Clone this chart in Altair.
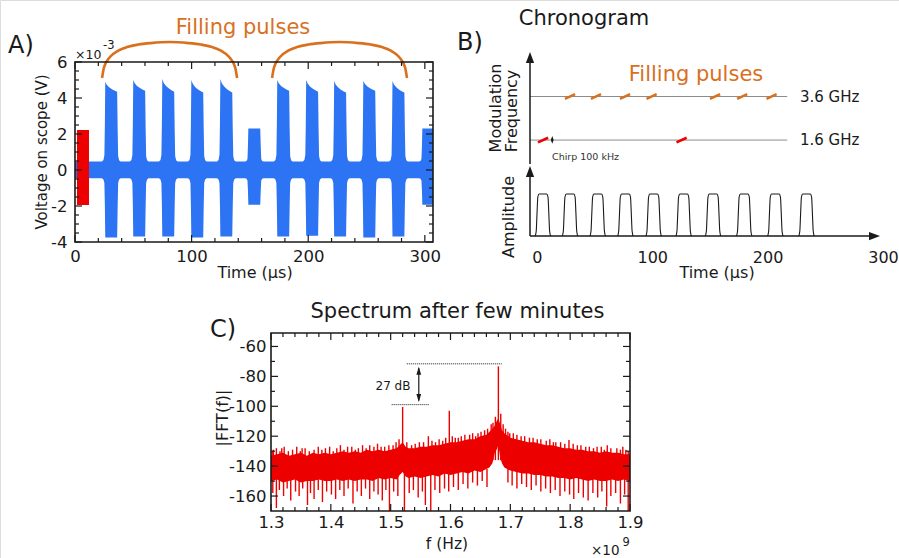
import altair as alt
import pandas as pd

FONT = "DejaVu Sans"
INK = "#1a1a1a"
BLUE = "#2c74f4"
RED = "#ec0000"
ORANGE = "#d9701e"
GREY = "#8c8c8c"
CANVAS_W, CANVAS_H = 899, 558

# ---------------- Panel A : scope trace (envelope of the recorded signal) ----------------
a_pulse_start = [1.7, 25.7, 49.7, 74.6, 99.5, 124.4, 148.4, 173.2, 198.0, 222.0, 247.0, 272.0, 297.6]
a_pulse_kind = ["red", "big", "big", "big", "big", "big", "small", "big", "big", "big", "big", "big", "small"]
a_big_peak = [4.9, 5.0, 5.05, 5.0, 5.05, 5.0, 5.0, 4.95, 4.95, 4.95]
a_big_end = [4.35, 4.4, 4.35, 4.3, 4.3, 4.4, 4.35, 4.3, 4.4, 4.3]
a_big_bottom = [-3.75, -3.7, -3.7, -3.75, -3.7, -3.7, -3.65, -3.7, -3.75, -3.7]
a_small_top, a_small_bottom = 2.3, -1.93
a_red_t = [1.7, 12.0]
a_red_top, a_red_bottom = 2.22, -1.95
a_base_hi, a_base_lo = 0.47, -0.46
a_trace_end = 312.0
# pulse envelope profile (offset from pulse edge, fraction of full swing)
a_rise_off = [-2.6, -1.3, -0.5, -0.1, 0.25]
a_rise_frac = [0.0, 0.02, 0.08, 0.45, 1.0]
a_plat_off = [1.5, 3.5, 6.0, 8.5, 10.45]
a_plat_frac = [0.3, 0.55, 0.75, 0.9, 1.0]
a_fall_off = [10.9, 11.3, 12.1, 13.4]
a_fall_frac = [0.45, 0.08, 0.02, 0.0]
# "Filling pulses" braces
a_brace_start = [23.2, 169.0]
a_brace_end = [139.0, 284.7]
a_brace_base, a_brace_top = 5.11, 7.11
a_brace_fx = [0, 0.015, 0.06, 0.12, 0.185, 0.27, 0.36, 0.5, 0.64, 0.73, 0.815, 0.88, 0.94, 0.985, 1.0]
a_brace_fh = [0, 0.3, 0.59, 0.76, 0.86, 0.93, 0.97, 1.0, 0.97, 0.93, 0.86, 0.76, 0.59, 0.3, 0]
a_xtick_major = [0, 100, 200, 300]
a_xtick_minor = [v for v in range(20, 307, 20) if v % 100]
a_ytick_major = [-4, -2, 0, 2, 4, 6]
a_ytick_minor = [v / 2 for v in range(-8, 13) if v % 4]

# ---------------- Panel B : chronogram ----------------
b_pulse_start = [-1.5, 22.0, 46.0, 70.0, 94.5, 120.5, 146.0, 173.0, 200.0, 227.0]
b_prof_off = [0, 0.9, 1.6, 2.3, 3.4, 10.0, 11.1, 11.8, 12.5, 13.4]
b_prof_lvl = [0, 0.12, 0.55, 0.93, 1.0, 1.0, 0.93, 0.55, 0.12, 0]
b_amp = 2.33
b_freq_labels = ["3.6 GHz", "1.6 GHz"]
b_freq_level = [7.75, 5.33]
b_axis_t = -6.0
b_line_end = 217.0
b_orange_t0 = [24.3, 46.8, 72.0, 95.0, 150.0, 173.5, 199.0]
b_red_t0 = [0.9, 121.0]
b_dash_len = 8.8
b_dash_rise = 0.13
b_chirp_t = 13.3
b_chirp_lo, b_chirp_hi = 5.12, 5.55
b_amp_tip, b_freq_tip, b_time_tip = 3.89, 10.22, 297.4
b_xticks = [0, 100, 200, 300]

# ---------------- Panel C : spectrum ----------------
spec_x = [1.300, 1.310, 1.320, 1.330, 1.340, 1.350, 1.360, 1.370, 1.380, 1.390, 1.400, 1.410,
          1.420, 1.430, 1.440, 1.450, 1.460, 1.470, 1.480, 1.490, 1.500, 1.510, 1.515, 1.520,
          1.525, 1.530, 1.540, 1.550, 1.560, 1.570, 1.580, 1.590, 1.600, 1.610, 1.620, 1.630,
          1.640, 1.650, 1.660, 1.665, 1.670, 1.674, 1.677, 1.680, 1.683, 1.686, 1.690, 1.700,
          1.710, 1.720, 1.730, 1.740, 1.750, 1.760, 1.770, 1.780, 1.790, 1.800, 1.810, 1.820,
          1.830, 1.840, 1.850, 1.860, 1.870, 1.880, 1.890, 1.900]
spec_hi = [-133, -132, -131, -133, -132, -131, -133, -131, -132, -131, -132, -131,
           -130, -131, -130, -131, -129, -130, -129, -130, -129, -128, -126, -124,
           -127, -128, -128, -127, -127, -126, -126, -125, -124, -124, -123, -122,
           -122, -120, -119, -117, -115, -113, -110, -108, -112, -116, -118, -121,
           -122, -123, -124, -124, -125, -126, -126, -127, -128, -128, -129, -129,
           -130, -130, -131, -130, -131, -131, -132, -132]
spec_lo = [-150, -149, -151, -150, -149, -151, -150, -150, -149, -150, -150, -149,
           -150, -149, -150, -149, -149, -150, -148, -149, -148, -149, -146, -144,
           -147, -148, -147, -148, -147, -146, -147, -145, -146, -145, -144, -145,
           -143, -144, -142, -141, -138, -131, -129, -126, -134, -138, -141, -143,
           -144, -145, -145, -146, -146, -147, -147, -148, -148, -149, -148, -149,
           -150, -149, -150, -150, -149, -150, -149, -150]
up_x = [1.304, 1.318, 1.336, 1.352, 1.372, 1.391, 1.410, 1.428, 1.446, 1.465, 1.484, 1.497,
        1.520, 1.535, 1.548, 1.563, 1.575, 1.587, 1.598, 1.608, 1.618, 1.632, 1.646, 1.657,
        1.668, 1.675, 1.680, 1.684, 1.688, 1.696, 1.705, 1.718, 1.732, 1.745, 1.760, 1.776,
        1.798, 1.812, 1.826, 1.845, 1.862, 1.878, 1.893,
        1.302, 1.309, 1.315, 1.322, 1.329, 1.343, 1.349, 1.357, 1.364, 1.379, 1.385, 1.398,
        1.404, 1.416, 1.422, 1.435, 1.441, 1.453, 1.459, 1.472, 1.478, 1.490, 1.504, 1.509,
        1.514, 1.527, 1.541, 1.555, 1.569, 1.581, 1.592, 1.603, 1.613, 1.624, 1.637, 1.642,
        1.651, 1.662, 1.671, 1.692, 1.699, 1.711, 1.724, 1.738, 1.751, 1.766, 1.772, 1.784,
        1.791, 1.805, 1.818, 1.832, 1.839, 1.852, 1.857, 1.868, 1.884, 1.888, 1.897]
up_top = [-129, -128, -129, -128, -129, -128, -128, -127, -128, -126, -127, -126,
          -100.5, -126, -124, -120, -124, -123, -103, -121, -120, -119, -118, -116,
          -112, -107, -73.3, -105, -112, -117, -118, -120, -121, -122, -123, -124,
          -122.5, -126, -127, -127, -126, -128, -129,
          -130, -128, -130, -127, -130, -127, -130, -128, -130, -127, -129, -127,
          -130, -126, -129, -127, -129, -126, -128, -127, -125, -127, -126, -124,
          -122, -124, -125, -124, -123, -122, -121, -120, -121, -119, -118, -120,
          -117, -115, -111, -115, -118, -119, -120, -121, -122, -122, -124, -124,
          -125, -125, -126, -127, -128, -127, -129, -128, -129, -127, -130]
dn_x = [1.303, 1.309, 1.314, 1.321, 1.327, 1.333, 1.341, 1.347, 1.353, 1.361, 1.366, 1.372,
        1.379, 1.386, 1.393, 1.401, 1.408, 1.415, 1.422, 1.429, 1.437, 1.444, 1.451, 1.458,
        1.465, 1.472, 1.479, 1.486, 1.492, 1.498, 1.505, 1.512, 1.523, 1.531, 1.538, 1.546,
        1.553, 1.558, 1.567, 1.574, 1.582, 1.590, 1.597, 1.605, 1.613, 1.621, 1.629, 1.637,
        1.645, 1.653, 1.661, 1.696, 1.703, 1.711, 1.719, 1.727, 1.735, 1.743, 1.751, 1.759,
        1.767, 1.775, 1.783, 1.791, 1.799, 1.806, 1.814, 1.822, 1.830, 1.838, 1.846, 1.853,
        1.861, 1.868, 1.876, 1.884, 1.891, 1.897]
dn_bot = [-158, -168, -156, -160, -155, -163, -157, -160, -155, -166, -158, -162,
          -156, -164, -157, -159, -162, -156, -160, -155, -165, -157, -160, -155,
          -162, -157, -159, -163, -156, -170, -157, -160, -170, -158, -156, -161,
          -157, -166, -170, -156, -158, -155, -157, -154, -156, -152, -155, -151,
          -153, -150, -154, -151, -153, -155, -152, -154, -156, -153, -157, -155,
          -158, -156, -160, -157, -159, -162, -158, -161, -163, -158, -161, -157,
          -167, -160, -158, -165, -159, -170]
c_ref_hi, c_ref_hi_x = -71.6, [1.527, 1.6855]
c_ref_lo, c_ref_lo_x = -98.9, [1.5017, 1.5646]
c_arrow_x, c_arrow_top, c_arrow_bot = 1.547, -73.6, -97.2
c_xtick_major = [1.3, 1.4, 1.5, 1.6, 1.7, 1.8, 1.9]
c_xtick_minor = [round(1.3 + 0.02 * i, 2) for i in range(31) if i % 5]
c_ytick_major = [-160, -140, -120, -100, -80, -60]
c_ytick_minor = [-150, -130, -110, -90, -70]

# ---------------- layout: pixel boxes of the three plot areas ----------------
BOX_A = dict(l=75, r=433, t=62, b=242)
BOX_B = dict(l=530, r=883, t=62, b=236)
BOX_C = dict(l=271, r=630, t=333, b=511)
DOM_A = dict(x=[0, 307], y=[-4, 6])
DOM_B = dict(x=[-6, 300], y=[0, 9.667])
DOM_C = dict(x=[1.3, 1.9], y=[-170, -51])
MINUS = "replace(datum.label, '\u2212', '-')"


def sx(dom, box, clamp=False):
    return alt.Scale(domain=dom["x"], range=[box["l"], box["r"]], nice=False, zero=False, clamp=clamp)


def sy(dom, box, clamp=False):
    return alt.Scale(domain=dom["y"], range=[box["b"], box["t"]], nice=False, zero=False, clamp=clamp)


def X(field, dom, box, axis=None, clamp=False):
    return alt.X(field, type="quantitative", scale=sx(dom, box, clamp), axis=axis)


def Y(field, dom, box, axis=None, clamp=False):
    return alt.Y(field, type="quantitative", scale=sy(dom, box, clamp), axis=axis)


def axis(orient, offset, values, pad, fmt, size=16.5):
    return alt.Axis(orient=orient, offset=offset, values=values, labelPadding=pad, format=fmt,
                    labelExpr=MINUS, title=None, ticks=False, tickSize=0, domain=False, grid=False,
                    labelFlush=False, labelOverlap=False, labelFontSize=size, labelColor=INK,
                    labelFont=FONT)


dummy = pd.DataFrame({"k": [0]})


def text(s, x, y, size, color=INK, align="center", baseline="alphabetic", angle=None):
    kw = dict(text=s, fontSize=size, color=color, align=align, baseline=baseline, font=FONT)
    if angle is not None:
        kw["angle"] = angle
    return alt.Chart(dummy).mark_text(**kw).encode(x=alt.value(x), y=alt.value(y))


def frame_and_ticks(dom, box, xmaj, xmin, ymaj, ymin):
    out = []
    for vals, L in ((xmaj, 7), (xmin, 4)):
        d = pd.DataFrame({"v": vals})
        base = alt.Chart(d).mark_rule(color=INK, strokeWidth=1.2)
        out.append(base.encode(x=X("v", dom, box), y=alt.value(box["b"]), y2=alt.value(box["b"] - L)))
        out.append(base.encode(x=X("v", dom, box), y=alt.value(box["t"]), y2=alt.value(box["t"] + L)))
    for vals, L in ((ymaj, 7), (ymin, 4)):
        d = pd.DataFrame({"v": vals})
        base = alt.Chart(d).mark_rule(color=INK, strokeWidth=1.2)
        out.append(base.encode(y=Y("v", dom, box), x=alt.value(box["l"]), x2=alt.value(box["l"] + L)))
        out.append(base.encode(y=Y("v", dom, box), x=alt.value(box["r"]), x2=alt.value(box["r"] - L)))
    out.append(alt.Chart(dummy).mark_rect(fillOpacity=0, stroke=INK, strokeWidth=1.6).encode(
        x=alt.value(box["l"]), x2=alt.value(box["r"]), y=alt.value(box["t"]), y2=alt.value(box["b"])))
    return out


layers = []

# ======================= Panel A =======================
rows = [(0.0, a_base_hi, a_base_lo)]
big = iter(zip(a_big_peak, a_big_end, a_big_bottom))
for s, kind in zip(a_pulse_start, a_pulse_kind):
    if kind == "red":
        continue
    if kind == "big":
        peak, end, bot = next(big)
    else:
        peak, end, bot = a_small_top, a_small_top, a_small_bottom
    for o, f in zip(a_rise_off, a_rise_frac):
        rows.append((s + o, a_base_hi + f * (peak - a_base_hi), a_base_lo + f * (bot - a_base_lo)))
    for o, f in zip(a_plat_off, a_plat_frac):
        rows.append((s + o, peak + f * (end - peak), bot))
    for o, f in zip(a_fall_off, a_fall_frac):
        rows.append((s + o, a_base_hi + f * (end - a_base_hi), a_base_lo + f * (bot - a_base_lo)))
rows.append((a_trace_end, a_base_hi, a_base_lo))
df_a = pd.DataFrame(rows, columns=["t", "hi", "lo"])

layers.append(alt.Chart(df_a).mark_area(color=BLUE, opacity=1).encode(
    x=X("t", DOM_A, BOX_A, axis("bottom", BOX_A["b"] - CANVAS_H, a_xtick_major, 6, "d"), clamp=True),
    y=Y("hi", DOM_A, BOX_A, axis("left", -BOX_A["l"], a_ytick_major, 8, "d")),
    y2="lo:Q"))
df_red = pd.DataFrame({"t": a_red_t, "hi": [a_red_top] * 2, "lo": [a_red_bottom] * 2})
layers.append(alt.Chart(df_red).mark_area(color=RED, opacity=1).encode(
    x=X("t", DOM_A, BOX_A), y=Y("hi", DOM_A, BOX_A), y2="lo:Q"))

brace_rows = []
for i, (t0, t1) in enumerate(zip(a_brace_start, a_brace_end)):
    for fx, fh in zip(a_brace_fx, a_brace_fh):
        brace_rows.append((i, t0 + fx * (t1 - t0), a_brace_base + fh * (a_brace_top - a_brace_base)))
df_brace = pd.DataFrame(brace_rows, columns=["id", "t", "v"])
layers.append(alt.Chart(df_brace).mark_line(color=ORANGE, strokeWidth=2.6, interpolate="monotone").encode(
    x=X("t", DOM_A, BOX_A), y=Y("v", DOM_A, BOX_A), detail="id:N"))
layers += frame_and_ticks(DOM_A, BOX_A, a_xtick_major, a_xtick_minor, a_ytick_major, a_ytick_minor)

layers += [
    text("A)", 8, 53, 24, align="left"),
    text("Filling pulses", 243, 33.5, 21, color=ORANGE),
    text("Voltage on scope (V)", 41.7, 152, 15, baseline="middle", angle=270),
    text("Time (\u00b5s)", 255, 278, 16),
    text("\u00d710", 75, 58.5, 12.5, align="left"),
    text("-3", 103, 49, 11.5, align="left"),
]

# ======================= Panel B =======================
df_lines = pd.DataFrame({"x0": [b_axis_t] * 2, "x1": [b_line_end] * 2, "lvl": b_freq_level})
layers.append(alt.Chart(df_lines).mark_rule(color=GREY, strokeWidth=1).encode(
    x=X("x0", DOM_B, BOX_B), x2="x1:Q", y=Y("lvl", DOM_B, BOX_B)))

dash_rows = [(t, t + b_dash_len, b_freq_level[0], "o") for t in b_orange_t0] + \
            [(t, t + b_dash_len, b_freq_level[1], "r") for t in b_red_t0]
df_dash = pd.DataFrame(dash_rows, columns=["t0", "t1", "lvl", "c"])
df_dash["y0"] = df_dash["lvl"] - b_dash_rise
df_dash["y1"] = df_dash["lvl"] + b_dash_rise
layers.append(alt.Chart(df_dash).mark_rule(strokeWidth=2.6).encode(
    x=X("t0", DOM_B, BOX_B), x2="t1:Q", y=Y("y0", DOM_B, BOX_B), y2="y1:Q",
    color=alt.Color("c:N", scale=alt.Scale(domain=["o", "r"], range=[ORANGE, RED]), legend=None)))

df_axes = pd.DataFrame({"x0": [b_axis_t, b_axis_t, b_axis_t],
                        "x1": [b_axis_t, b_axis_t, b_time_tip - 4],
                        "y0": [0, 4.0, 0],
                        "y1": [b_amp_tip - 0.3, b_freq_tip - 0.3, 0]})
layers.append(alt.Chart(df_axes).mark_rule(color=INK, strokeWidth=1.5).encode(
    x=X("x0", DOM_B, BOX_B), x2="x1:Q", y=Y("y0", DOM_B, BOX_B), y2="y1:Q"))
df_up = pd.DataFrame({"t": [b_axis_t, b_axis_t], "v": [b_amp_tip, b_freq_tip]})
layers.append(alt.Chart(df_up).mark_point(shape="M0,0L-0.75,2L0.75,2Z", filled=True, size=121,
                                          color=INK, opacity=1, strokeWidth=0).encode(
    x=X("t", DOM_B, BOX_B), y=Y("v", DOM_B, BOX_B)))
df_right = pd.DataFrame({"t": [b_time_tip], "v": [0]})
layers.append(alt.Chart(df_right).mark_point(shape="M0,0L-2,-0.75L-2,0.75Z", filled=True, size=121,
                                             color=INK, opacity=1, strokeWidth=0).encode(
    x=X("t", DOM_B, BOX_B), y=Y("v", DOM_B, BOX_B)))

pulse_rows = []
for i, s in enumerate(b_pulse_start):
    for o, lv in zip(b_prof_off, b_prof_lvl):
        pulse_rows.append((i, s + o, lv * b_amp))
df_pulse = pd.DataFrame(pulse_rows, columns=["id", "t", "v"])
layers.append(alt.Chart(df_pulse).mark_line(color=INK, strokeWidth=1.1, interpolate="monotone").encode(
    x=X("t", DOM_B, BOX_B, axis("bottom", BOX_B["b"] - CANVAS_H, b_xticks, 13.5, "d", 16)),
    y=Y("v", DOM_B, BOX_B), detail="id:N"))

df_chirp = pd.DataFrame({"t": [b_chirp_t], "lo": [b_chirp_lo + 0.1], "hi": [b_chirp_hi - 0.1]})
layers.append(alt.Chart(df_chirp).mark_rule(color=INK, strokeWidth=1).encode(
    x=X("t", DOM_B, BOX_B), y=Y("lo", DOM_B, BOX_B), y2="hi:Q"))
layers.append(alt.Chart(pd.DataFrame({"t": [b_chirp_t], "v": [b_chirp_hi]})).mark_point(
    shape="M0,0L-0.7,2L0.7,2Z", filled=True, size=16, color=INK, opacity=1, strokeWidth=0).encode(
    x=X("t", DOM_B, BOX_B), y=Y("v", DOM_B, BOX_B)))
layers.append(alt.Chart(pd.DataFrame({"t": [b_chirp_t], "v": [b_chirp_lo]})).mark_point(
    shape="M0,0L-0.7,-2L0.7,-2Z", filled=True, size=16, color=INK, opacity=1, strokeWidth=0).encode(
    x=X("t", DOM_B, BOX_B), y=Y("v", DOM_B, BOX_B)))

layers += [
    text("Chronogram", 584, 25, 21),
    text("B)", 457, 50, 24, align="left"),
    text("Filling pulses", 696, 81, 21, color=ORANGE),
    text("Modulation", 496, 108, 16, baseline="middle", angle=270),
    text("Frequency", 512, 111, 16, baseline="middle", angle=270),
    text("Amplitude", 509, 217, 16, baseline="middle", angle=270),
    text("Time (\u00b5s)", 717, 278, 16),
    text(b_freq_labels[0], 800, 96.5, 15, align="left", baseline="middle"),
    text(b_freq_labels[1], 800, 140, 15, align="left", baseline="middle"),
    text("Chirp 100 kHz", 552, 157, 9.5, color="#333333", align="left", baseline="middle"),
]

# ======================= Panel C =======================
df_spec = pd.DataFrame({"f": spec_x, "hi": spec_hi, "lo": spec_lo})
layers.append(alt.Chart(df_spec).mark_area(color=RED, opacity=1).encode(
    x=X("f", DOM_C, BOX_C, axis("bottom", BOX_C["b"] - CANVAS_H, c_xtick_major, 3, ".1f")),
    y=Y("hi", DOM_C, BOX_C, axis("left", -BOX_C["l"], c_ytick_major, 5, "d")),
    y2="lo:Q"))
df_up_sp = pd.DataFrame({"f": up_x, "top": up_top, "base": [-136] * len(up_x)})
layers.append(alt.Chart(df_up_sp).mark_rule(color=RED, strokeWidth=1.4).encode(
    x=X("f", DOM_C, BOX_C), y=Y("top", DOM_C, BOX_C, clamp=True), y2="base:Q"))
df_dn_sp = pd.DataFrame({"f": dn_x, "bot": dn_bot, "base": [-142] * len(dn_x)})
layers.append(alt.Chart(df_dn_sp).mark_rule(color=RED, strokeWidth=1.4).encode(
    x=X("f", DOM_C, BOX_C), y=Y("bot", DOM_C, BOX_C, clamp=True), y2="base:Q"))

df_ref = pd.DataFrame({"x0": [c_ref_hi_x[0], c_ref_lo_x[0]], "x1": [c_ref_hi_x[1], c_ref_lo_x[1]],
                       "v": [c_ref_hi, c_ref_lo]})
layers.append(alt.Chart(df_ref).mark_rule(color=INK, strokeWidth=1, strokeDash=[1, 1]).encode(
    x=X("x0", DOM_C, BOX_C), x2="x1:Q", y=Y("v", DOM_C, BOX_C)))
layers.append(alt.Chart(pd.DataFrame({"f": [c_arrow_x], "a": [c_arrow_top - 1], "b": [c_arrow_bot + 1]}))
              .mark_rule(color=INK, strokeWidth=1.2).encode(
    x=X("f", DOM_C, BOX_C), y=Y("a", DOM_C, BOX_C), y2="b:Q"))
layers.append(alt.Chart(pd.DataFrame({"f": [c_arrow_x], "v": [c_arrow_top]})).mark_point(
    shape="M0,0L-0.6,2L0.6,2Z", filled=True, size=64, color=INK, opacity=1, strokeWidth=0).encode(
    x=X("f", DOM_C, BOX_C), y=Y("v", DOM_C, BOX_C)))
layers.append(alt.Chart(pd.DataFrame({"f": [c_arrow_x], "v": [c_arrow_bot]})).mark_point(
    shape="M0,0L-0.6,-2L0.6,-2Z", filled=True, size=64, color=INK, opacity=1, strokeWidth=0).encode(
    x=X("f", DOM_C, BOX_C), y=Y("v", DOM_C, BOX_C)))
layers += frame_and_ticks(DOM_C, BOX_C, c_xtick_major, c_xtick_minor, c_ytick_major, c_ytick_minor)

layers += [
    text("C)", 210, 337, 24, align="left"),
    text("Spectrum after few minutes", 457.5, 318, 21),
    text("|FFT(f)|", 223, 418, 16, baseline="middle", angle=270),
    text("f (Hz)", 447, 549, 15.5),
    text("\u00d710", 591, 555, 13.5, align="left"),
    text("9", 622.5, 545.5, 11.5, align="left"),
    text("27 dB", 393, 385.5, 12, baseline="middle"),
]

chart = (
    alt.layer(*layers)
    .resolve_scale(x="independent", y="independent", color="independent")
    .resolve_axis(x="independent", y="independent")
    .properties(width=CANVAS_W, height=CANVAS_H, autosize=alt.AutoSizeParams(type="none"),
                padding=0, background="white")
    .configure_view(strokeWidth=0)
    .configure(font=FONT)
)

chart.save("out.html", embed_options={"renderer": "svg", "actions": False})
